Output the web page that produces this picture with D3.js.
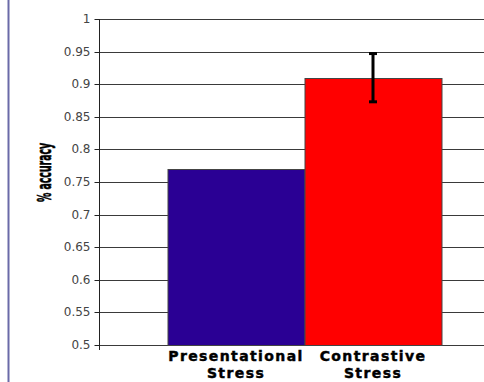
<!DOCTYPE html>
<html><head><meta charset="utf-8">
<script src="https://cdn.jsdelivr.net/npm/d3@7"></script>
<style>body{margin:0;background:#fff}svg{display:block}</style>
</head><body>
<svg id="c" width="484" height="382"></svg>
<script>
const categories = [["Presentational", "Stress"], ["Contrastive", "Stress"]];
const values = [0.77, 0.91];
const errors = [null, 0.037];
const colors = ["#2a0094", "#ff0000"];
const yTicks = [0.5, 0.55, 0.6, 0.65, 0.7, 0.75, 0.8, 0.85, 0.9, 0.95, 1];
const yLabel = "% accuracy";

const svg = d3.select("#c");
const keys = categories.map(c => c.join(" "));
const x = d3.scaleBand().domain(keys).range([99, 510]).paddingInner(0).paddingOuter(0.5);
const y = d3.scaleLinear().domain([0.5, 1]).range([345, 19]);

// left frame line
svg.append("line").attr("x1", 8.5).attr("x2", 8.5).attr("y1", 0).attr("y2", 382)
  .attr("stroke", "#6a6aa8").attr("stroke-width", 2);

// gridlines
svg.append("g").selectAll("line").data(yTicks).join("line")
  .attr("x1", 99).attr("x2", 484)
  .attr("y1", d => Math.round(y(d)) + 0.5).attr("y2", d => Math.round(y(d)) + 0.5)
  .attr("stroke", "#3a3a3a").attr("stroke-width", 1);

// y axis
const ax = svg.append("g").attr("transform", "translate(99.5,0)")
  .call(d3.axisLeft(y).tickValues(yTicks).tickSize(5).tickPadding(4).tickFormat(d => String(d)));
ax.select(".domain").remove();
ax.selectAll(".tick line").attr("stroke", "#222");
ax.selectAll(".tick text").attr("font-family", "DejaVu Sans").attr("font-size", 12).attr("fill", "#444");
ax.selectAll(".tick").attr("transform", d => `translate(0,${Math.round(y(d)) + 0.5})`);
svg.append("line").attr("x1", 99.5).attr("x2", 99.5).attr("y1", y(1)).attr("y2", 350)
  .attr("stroke", "#222");

// bars
svg.append("g").selectAll("rect").data(values).join("rect")
  .attr("x", (d, i) => x(keys[i]) + 0.5)
  .attr("width", x.bandwidth())
  .attr("y", d => Math.round(y(d)) + 0.5)
  .attr("height", d => y(0.5) - Math.round(y(d)))
  .attr("fill", (d, i) => colors[i])
  .attr("stroke", "#444").attr("stroke-width", 1);

// error bars
const eb = svg.append("g");
values.forEach((v, i) => {
  if (errors[i] == null) return;
  const cx = x(keys[i]) + x.bandwidth() / 2;
  eb.append("line").attr("x1", cx).attr("x2", cx).attr("y1", y(v + errors[i])).attr("y2", y(v - errors[i]))
    .attr("stroke", "#000").attr("stroke-width", 3);
  [v + errors[i], v - errors[i]].forEach(e => {
    eb.append("line").attr("x1", cx - 4).attr("x2", cx + 4).attr("y1", y(e)).attr("y2", y(e))
      .attr("stroke", "#000").attr("stroke-width", 3);
  });
});

// category labels
categories.forEach((lines, i) => {
  const cx = x(keys[i]) + x.bandwidth() / 2;
  const t = svg.append("text").attr("x", cx).attr("y", 361)
    .attr("text-anchor", "middle").attr("font-family", "DejaVu Sans").attr("font-weight", "bold")
    .attr("font-size", 14).attr("letter-spacing", 1.4)
    .attr("fill", "#000").attr("stroke", "#000").attr("stroke-width", 0.45);
  lines.forEach((l, j) => t.append("tspan").attr("x", cx).attr("dy", j ? 17 : 0).text(l));
});

// y label
svg.append("text").attr("transform", "translate(50.5,172.5) rotate(-90) scale(0.48,1)")
  .attr("text-anchor", "middle").attr("font-family", "DejaVu Sans").attr("font-weight", "bold")
  .attr("font-size", 19.5).attr("fill", "#000").attr("stroke", "#000").attr("stroke-width", 0.6)
  .text(yLabel);
</script>
</body></html>
